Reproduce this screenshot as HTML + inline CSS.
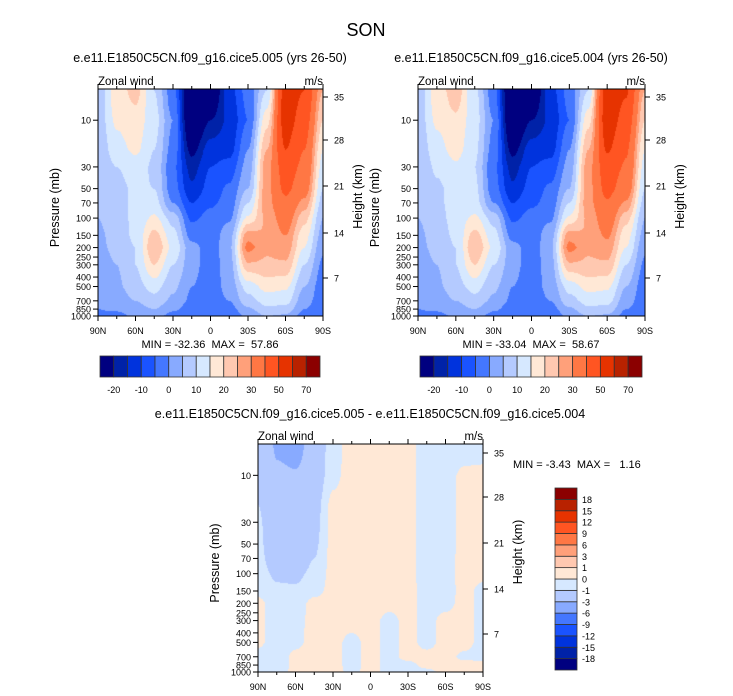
<!DOCTYPE html>
<html><head><meta charset="utf-8">
<style>
body{margin:0;background:#fff;width:733px;height:696px;overflow:hidden;position:relative;font-family:"Liberation Sans",Arial,sans-serif}
canvas{position:absolute}
svg{position:absolute;left:0;top:0}
text{white-space:pre}
</style></head><body>
<canvas id="c1" width="225" height="227" style="left:98px;top:89px"></canvas>
<canvas id="c2" width="227" height="227" style="left:418px;top:89px"></canvas>
<canvas id="c3" width="225" height="228" style="left:258px;top:444px"></canvas>
<svg id="s" width="733" height="696"></svg>
<script>
const lats=[90,75,60,45,30,15,0,-15,-30,-45,-60,-75,-90];
const plevs=[5,7,10,20,30,50,70,100,150,200,300,500,700,850,1000];
const u005=[
[7,17,22,10,-3,-30,-28,-12,-3,10,55,50,25],
[7,17,20,11,-2,-30,-24,-13,-4,14,55,48,22],
[7,16,18,12,0,-30,-20,-14,-5,18,55,45,20],
[6,13,16,10,-2,-22,-12,-12,0,25,50,40,15],
[5,10,13,9,-4,-17,-10,-8,2,28,45,38,13],
[5,8,11,10,-3,-14,-8,-4,5,28,42,34,10],
[5,8,11,12,0,-10,-6,-3,10,28,38,28,8],
[5,8,11,16,8,-6,-3,-1,16,26,34,22,5],
[4,7,11,22,12,-2,-3,3,28,25,30,17,3],
[4,6,10,25,14,2,-3,4,32,26,28,15,1],
[3,5,10,20,10,2,-3,3,24,24,24,10,-1],
[2,4,8,12,6,0,-3,2,12,17,16,5,-3],
[1,2,5,8,4,-1,-3,0,8,12,12,2,-3],
[0,1,3,5,1,-3,-2,-2,4,9,8,0,-3],
[-1,-2,1,2,-2,-4,-2,-4,1,5,4,-2,-4]];
const u004=[
[7,17,23,11,-3,-31,-28,-12,-3,10,56,51,25],
[7,17,21,12,-2,-31,-24,-13,-4,14,56,49,22],
[7,16,19,12,0,-30,-20,-14,-5,18,56,46,20],
[6,13,17,11,-2,-22,-12,-12,0,25,51,41,15],
[5,11,14,10,-4,-17,-10,-8,2,28,46,39,13],
[5,9,12,11,-3,-14,-8,-4,5,28,43,35,10],
[5,9,12,12,0,-10,-6,-3,10,28,39,29,8],
[5,8,12,16,8,-6,-3,-1,16,26,35,22,5],
[4,7,11,22,12,-2,-3,3,28,25,31,17,3],
[4,6,10,25,14,2,-3,4,32,26,28,15,1],
[3,5,10,20,10,2,-3,3,24,24,24,10,-1],
[2,4,8,12,6,0,-3,2,12,17,16,5,-3],
[1,2,5,8,4,-1,-3,0,8,12,12,2,-3],
[0,1,3,5,1,-3,-2,-2,4,9,8,0,-3],
[-1,-2,1,2,-2,-4,-2,-4,1,5,4,-2,-4]];
const udiff=[
[-1.1,-3.2,-3.8,-2,-0.5,0.5,0.5,0.5,0.3,-0.5,-0.5,-0.5,-0.5],
[-1.1,-3,-3.3,-2,-0.4,0.5,0.5,0.5,0.3,-0.5,-0.5,-0.2,-0.2],
[-1.1,-2.6,-2.8,-2,-0.3,0.5,0.5,0.5,0.3,-0.5,-0.5,0.3,0.5],
[-1,-2.4,-2.6,-1.5,0.3,0.5,0.5,0.5,0.3,-0.5,-0.5,0.3,0.5],
[-0.8,-2.3,-2.5,-1.4,0.3,0.5,0.5,0.5,0.3,-0.5,-0.5,0.3,0.5],
[-0.7,-2.2,-2.4,-1.2,0.3,0.5,0.5,0.5,0.3,-0.5,-0.5,0.3,0.5],
[-0.6,-1.9,-2.1,-1,0.3,0.5,0.5,0.5,0.3,-0.5,-0.3,0.3,0.5],
[-0.5,-1.2,-1.3,-0.7,0.3,0.5,0.5,0.5,0.3,-0.5,-0.3,0.3,0.3],
[-0.3,-0.8,-0.8,-0.3,0.3,0.5,0.5,0.5,0.3,-0.3,-0.4,0.3,-0.3],
[0.3,-0.6,-0.5,0.3,0.3,0.5,0.5,0.3,0.3,-0.3,-0.3,0.3,-0.3],
[0.3,-0.6,-0.3,0.3,0.3,0.4,0.3,-0.3,0.3,-0.3,0.3,0.3,-0.3],
[0.2,-0.5,-0.2,0.3,0.3,-0.3,0.3,-0.3,0.3,-0.3,0.3,0.3,-0.3],
[-0.3,-0.5,0.2,0.3,0.3,-0.3,0.3,-0.3,0.3,0.3,0.3,-0.2,-0.3],
[-0.3,-0.5,0.2,0.3,0.3,-0.3,0.3,-0.3,-0.3,0.3,0.3,0.3,0.3],
[-0.3,-0.4,0.2,0.3,0.3,-0.2,0.3,-0.3,-0.3,-0.3,0.3,0.3,0.3]];
const levelsMain=[-20,-15,-10,-5,0,5,10,15,20,25,30,40,50,60,70];
const levelsDiff=[-18,-15,-12,-9,-6,-3,-1,0,1,3,6,9,12,15,18];
const colors=["#000080","#0022a8","#0033dd","#1a53ff","#4477ff","#88aaff","#b4caff","#d6e8ff","#ffe8d6","#ffc8b0","#ffa07a","#ff7744","#ff5522","#e63300","#b82200","#8b0000"];
const mainTickLabels=["-20","-10","0","10","20","30","50","70"];
const diffTickLabels=["-18","-15","-12","-9","-6","-3","-1","0","1","3","6","9","12","15","18"];
const presTicks=[10,30,50,70,100,150,200,250,300,400,500,700,850,1000];
const heightTicks=[35,28,21,14,7];
const latTicks=[90,60,30,0,-30,-60,-90];
const PTOP=4.8,PBOT=1000;

function hex(c){return [parseInt(c.slice(1,3),16),parseInt(c.slice(3,5),16),parseInt(c.slice(5,7),16)];}
const rgb=colors.map(hex);
function interp(grid,lat,p){
  let fx=(90-lat)/15; fx=Math.max(0,Math.min(12,fx));
  let i=Math.min(11,Math.floor(fx)),tx=fx-i;
  let lp=Math.log(Math.max(plevs[0],Math.min(1000,p)));
  let j=0; while(j<plevs.length-2&&Math.log(plevs[j+1])<lp)j++;
  let ty=(lp-Math.log(plevs[j]))/(Math.log(plevs[j+1])-Math.log(plevs[j]));
  ty=Math.max(0,Math.min(1,ty));
  tx=tx*tx*(3-2*tx);
  const a=grid[j][i],b=grid[j][i+1],c=grid[j+1][i],d=grid[j+1][i+1];
  return (a*(1-tx)+b*tx)*(1-ty)+(c*(1-tx)+d*tx)*ty;
}
function level(v,levs){let k=0;while(k<levs.length&&v>=levs[k])k++;return k;}
function draw(id,grid,levs){
  const cv=document.getElementById(id),ctx=cv.getContext('2d');
  const W=cv.width,H=cv.height,img=ctx.createImageData(W,H);
  for(let y=0;y<H;y++){
    const p=Math.exp(Math.log(PTOP)+(Math.log(PBOT)-Math.log(PTOP))*(y+0.5)/H);
    for(let x=0;x<W;x++){
      const lat=90-180*(x+0.5)/W;
      const c=rgb[level(interp(grid,lat,p),levs)];
      const o=(y*W+x)*4;img.data[o]=c[0];img.data[o+1]=c[1];img.data[o+2]=c[2];img.data[o+3]=255;
    }
  }
  ctx.putImageData(img,0,0);
}
draw('c1',u005,levelsMain);draw('c2',u004,levelsMain);draw('c3',udiff,levelsDiff);

const S=document.getElementById('s'),NS="http://www.w3.org/2000/svg";
function el(t,a,txt){const e=document.createElementNS(NS,t);for(const k in a)e.setAttribute(k,a[k]);if(txt!==undefined)e.textContent=txt;S.appendChild(e);return e;}
function text(x,y,s,size,anchor,name,extra){
  const e=el('text',Object.assign({x:x,y:y,'font-size':size,'text-anchor':anchor||'start',fill:'#000'},extra||{}),s);
  
  
  return e;
}
function yP(p,y0,y1){return y0+(y1-y0)*(Math.log(p)-Math.log(PTOP))/(Math.log(PBOT)-Math.log(PTOP));}
function panel(x0,y0,w,h,prefix,htY){
  const x1=x0+w,y1=y0+h;
  const r=el('rect',{x:x0,y:y0,width:w,height:h,fill:'none',stroke:'#000','stroke-width':1});
  
  
  latTicks.forEach(l=>{
    const x=x0+w*(90-l)/180;
    el('line',{x1:x,y1:y1,x2:x,y2:y1+5,stroke:'#000'});
    el('line',{x1:x,y1:y0,x2:x,y2:y0-5,stroke:'#000'});
    const s=l===0?'0':Math.abs(l)+(l>0?'N':'S');
    text(x,y1+18,s,9,'middle',prefix+'-lat-label');
  });
  for(let l=75;l>-90;l-=15){if(l%30===0)continue;const x=x0+w*(90-l)/180;
    el('line',{x1:x,y1:y1,x2:x,y2:y1+3,stroke:'#000'});el('line',{x1:x,y1:y0,x2:x,y2:y0-3,stroke:'#000'});}
  presTicks.forEach(p=>{
    const y=yP(p,y0,y1);
    el('line',{x1:x0-5,y1:y,x2:x0,y2:y,stroke:'#000'});
    text(x0-7,y+3.5,String(p),9,'end',prefix+'-pressure-label');
  });
  heightTicks.forEach((hk,i)=>{
    const y=htY[i];
    el('line',{x1:x1,y1:y,x2:x1+5,y2:y,stroke:'#000'});
    text(x1+11,y+3.5,String(hk),9,'start',prefix+'-height-label');
  });
  text(x0,y0-4,'Zonal wind',11.5,'start',prefix+'-variable-label');
  text(x1,y0-4,'m/s',11.5,'end',prefix+'-units-label');
  text(0,0,'Pressure (mb)',12.5,'middle',prefix+'-y-axis-title',{transform:`translate(${x0-39},${(y0+y1)/2+5}) rotate(-90)`});
  text(0,0,'Height (km)',12.5,'middle',prefix+'-right-axis-title',{transform:`translate(${x1+39},${(y0+y1)/2-6}) rotate(-90)`});
}
function hbar(x0,y0,w,h,prefix){
  const bw=w/colors.length;
  colors.forEach((c,i)=>{const r=el('rect',{x:x0+i*bw,y:y0,width:bw,height:h,fill:c,stroke:'#333','stroke-width':0.8});
    
    });
  mainTickLabels.forEach((s,i)=>text(x0+(1+2*i)*bw,y0+h+16,s,9,'middle',prefix+'-colorbar-label'));
}
function vbar(x0,y0,w,h){
  const bh=h/colors.length;
  colors.forEach((c,i)=>{const r=el('rect',{x:x0,y:y0+(colors.length-1-i)*bh,width:w,height:bh,fill:c,stroke:'#333','stroke-width':0.8});
    
    });
  diffTickLabels.forEach((s,i)=>text(x0+w+5,y0+(colors.length-1-i)*bh+3.5,s,9,'start','diff-colorbar-label'));
}
text(366,36,'SON',18,'middle','figure-title');
text(210,62,'e.e11.E1850C5CN.f09_g16.cice5.005 (yrs 26-50)',12.5,'middle','panel-005-title');
text(531,62,'e.e11.E1850C5CN.f09_g16.cice5.004 (yrs 26-50)',12.5,'middle','panel-004-title');
text(370,418,'e.e11.E1850C5CN.f09_g16.cice5.005 - e.e11.E1850C5CN.f09_g16.cice5.004',12.5,'middle','diff-title');
panel(98,89,225,227,'panel-005',[97,140,186,233,278]);
panel(418,89,227,227,'panel-004',[97,140,186,233,278]);
panel(258,444,225,228,'diff',[453,497,543,589,634]);
text(210,348,'MIN = -32.36  MAX =  57.86',11,'middle','panel-005-minmax');
text(531,348,'MIN = -33.04  MAX =  58.67',11,'middle','panel-004-minmax');
text(513,468,'MIN = -3.43  MAX =   1.16',11,'start','diff-minmax');
hbar(100,356,220,21,'panel-005');
hbar(420,356,222,21,'panel-004');
vbar(555,488,22,182);
</script>
</body></html>
